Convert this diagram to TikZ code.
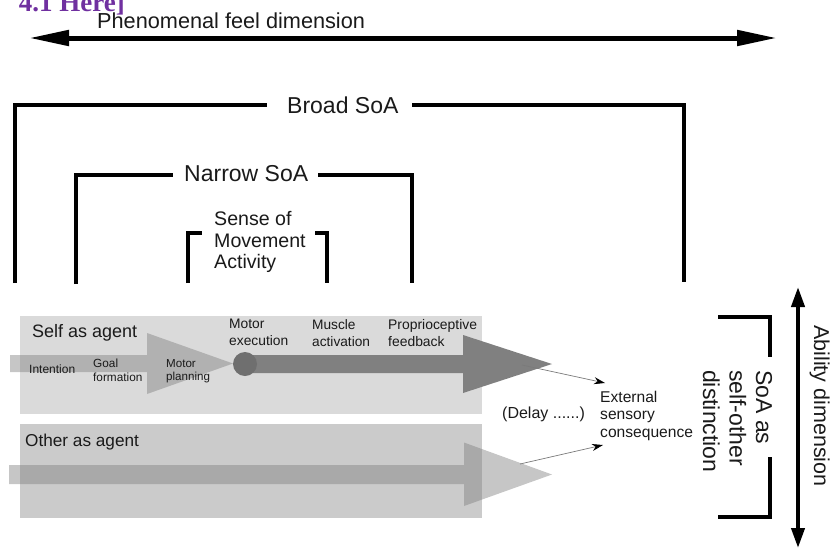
\documentclass[tikz,border=0pt]{standalone}
\usepackage{fontspec}
\setmainfont{Liberation Sans}
\newfontfamily\serifbf{Liberation Serif}
\usetikzlibrary{arrows.meta}
\definecolor{txt}{HTML}{1A1A1A}
\definecolor{selfbg}{HTML}{DADADA}
\definecolor{otherbg}{HTML}{CBCBCB}
\definecolor{darkarrow}{HTML}{808080}
\definecolor{lightarrow}{HTML}{808080}
\definecolor{dotc}{HTML}{6F6F6F}
\definecolor{purp}{HTML}{7030A0}
\definecolor{thinc}{HTML}{7A7A7A}
\begin{document}
\begin{tikzpicture}[x=1pt,y=-1pt,
  lbl/.style={inner sep=0pt, anchor=base west, text=txt, align=left},
  bracketline/.style={line width=4.5pt, line cap=butt, line join=miter},
  dimarrow/.style={line width=5pt, {Triangle[length=40pt,width=15pt]}-{Triangle[length=40pt,width=15pt]}},
  vdimarrow/.style={line width=4pt, {Triangle[length=20pt,width=13pt]}-{Triangle[length=20pt,width=13pt]}},
  thinarrow/.style={draw=thinc, line width=0.7pt, -{Stealth[length=11pt,width=7pt,color=black]}},
  fatlight/.style={fill=lightarrow, fill opacity=0.45},
  fatdark/.style={fill=darkarrow}
]
\useasboundingbox (0,0) rectangle (832,552);

% clipped title fragment
\begin{scope}
\clip (0,0) rectangle (200,40);
\node[inner sep=0pt, anchor=base east, text=purp, font=\serifbf\bfseries\fontsize{27}{29}\selectfont] (frag) at (125,11) {4.1 Here]};
\end{scope}

% phenomenal dimension
\node[lbl, font=\fontsize{21.7}{24}\selectfont] (phen) at (97,28) {Phenomenal feel dimension};
\coordinate (phenL) at (29,38);
\coordinate (phenR) at (777,38);
\draw[dimarrow] (phenL) -- (phenR);

% Broad SoA bracket
\node[lbl, font=\fontsize{23}{26}\selectfont] (broad) at (287,113) {Broad SoA};
\draw[bracketline] (15,283) -- (15,105) -- (267,105);
\draw[bracketline] (412,105) -- (684,105) -- (684,282);

% Narrow SoA bracket
\node[lbl, font=\fontsize{23}{26}\selectfont] (narrow) at (184,181) {Narrow SoA};
\draw[bracketline] (76,284) -- (76,175) -- (173,175);
\draw[bracketline] (318,175) -- (412,175) -- (412,283);

% Sense of movement bracket (base anchor = last line)
\node[lbl, font=\fontsize{19.6}{21.6}\selectfont] (sense) at (214,268.7) {Sense of\\Movement\\Activity};
\draw[bracketline] (188,283) -- (188,233) -- (202,233);
\draw[bracketline] (315,233) -- (327,233) -- (327,283);

% boxes
\fill[selfbg] (20,316) rectangle (482,414);
\fill[otherbg] (20,424) rectangle (482,518);

% self arrows
\fill[fatlight] (10,355) -- (147,355) -- (147,333) -- (233,363.5) -- (147,394) -- (147,372) -- (10,372) -- cycle;
\fill[fatdark] (245,355) -- (463,355) -- (463,335) -- (552,364) -- (463,393) -- (463,373) -- (245,373) -- cycle;
\fill[dotc] (245,364) circle (12);

% other arrow
\fill[fatlight] (9,465) -- (464,465) -- (464,442.5) -- (552,474.5) -- (464,506) -- (464,484) -- (9,484) -- cycle;

% labels in boxes
\node[lbl, font=\fontsize{18}{20}\selectfont] (self) at (32,337) {Self as agent};
\node[lbl, font=\fontsize{17.2}{20}\selectfont] (other) at (25,446) {Other as agent};
\node[lbl, font=\fontsize{12}{14}\selectfont] (intent) at (29,373) {Intention};
\node[lbl, font=\fontsize{11.8}{13.8}\selectfont] (goal) at (93,381) {Goal\\formation};
\node[lbl, font=\fontsize{11.6}{13.4}\selectfont] (plan) at (166,380.4) {Motor\\planning};
\node[lbl, font=\fontsize{13.8}{17}\selectfont] (exec) at (229,345) {Motor\\execution};
\node[lbl, font=\fontsize{13.7}{17}\selectfont] (muscle) at (312,346) {Muscle\\activation};
\node[lbl, font=\fontsize{13.9}{17}\selectfont] (prop) at (388,346) {Proprioceptive\\feedback};

% delay and consequence
\node[lbl, font=\fontsize{16}{18}\selectfont] (delay) at (502,418) {(Delay ......)};
\node[lbl, font=\fontsize{15.6}{17.5}\selectfont] (ext) at (600,437) {External\\sensory\\consequence};
\coordinate (selftip) at (522,365);
\coordinate (othertip) at (520,464);
\coordinate (extin1) at (605,383);
\coordinate (extin2) at (603,445);
\draw[thinarrow] (selftip) -- (extin1);
\draw[thinarrow] (othertip) -- (extin2);

% SoA as self-other distinction
\node[lbl, rotate=-90, font=\fontsize{23}{26.5}\selectfont] (soa) at (703,370) {SoA as\\self-other\\distinction};
\draw[bracketline] (718,317) -- (770,317) -- (770,357);
\draw[bracketline] (770,457) -- (770,517) -- (718,517);

% Ability dimension
\node[lbl, rotate=-90, font=\fontsize{21.5}{24}\selectfont] (abil) at (814,325) {Ability dimension};
\coordinate (abT) at (798,287);
\coordinate (abB) at (798,548);
\draw[vdimarrow] (abT) -- (abB);
\end{tikzpicture}
\end{document}
